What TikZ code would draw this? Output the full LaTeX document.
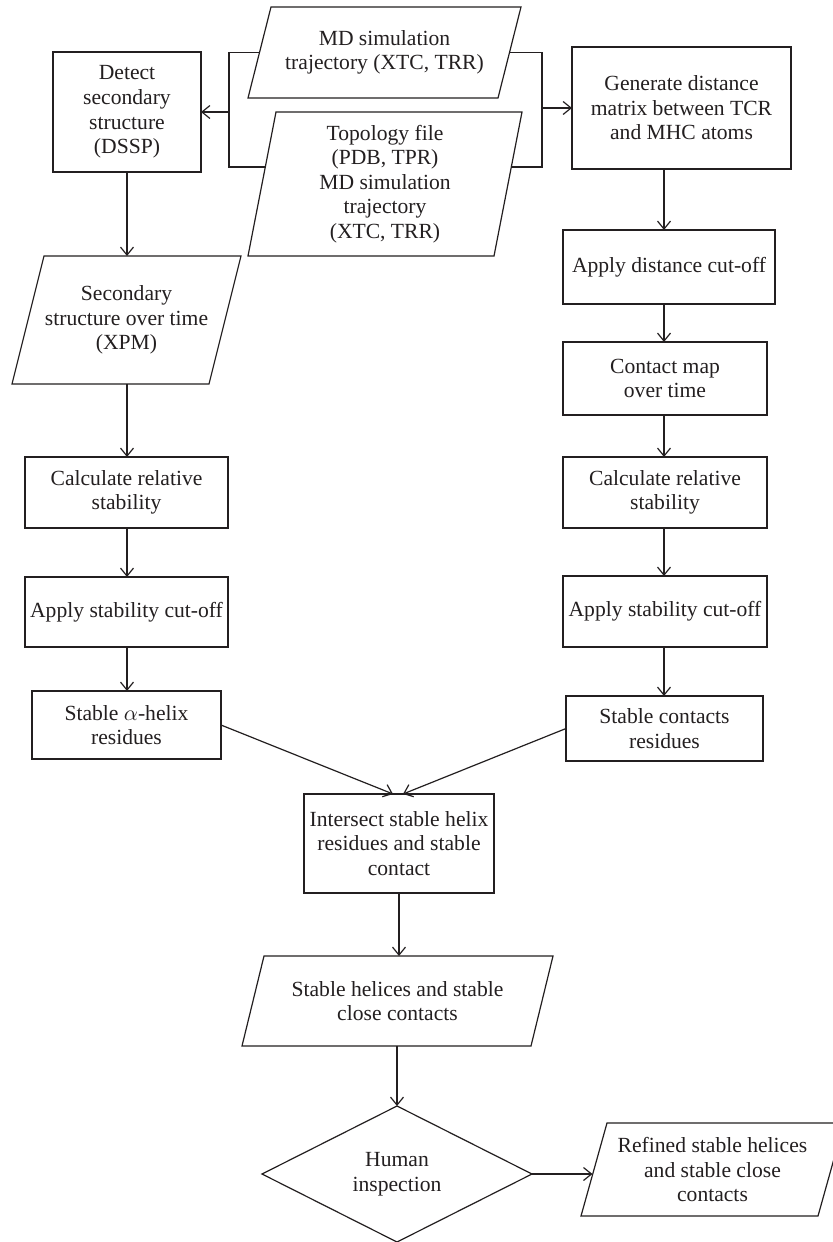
\documentclass[tikz,border=0pt]{standalone}
\usepackage{fontspec}
\setmainfont{Liberation Serif}
\usetikzlibrary{shapes.geometric,arrows.meta,calc}
\definecolor{ink}{HTML}{231F20}
\newcommand\drawpara[2]{\draw[ln] ([xshift=#2]#1.north west) -- (#1.north east) -- ([xshift=-#2]#1.south east) -- (#1.south west) -- cycle;}
\begin{document}
\begin{tikzpicture}[x=0.5pt,y=-0.5pt,
  every node/.style={font=\fontsize{10.8}{12.3}\selectfont, text=ink, align=center, inner sep=0pt, outer sep=0pt},
  box/.style={draw=ink, line width=0.6pt},
  dia/.style={draw=ink, line width=0.6pt, shape=diamond},
  ln/.style={draw=ink, line width=0.6pt},
  arr/.style={draw=ink, line width=0.6pt, -{Straight Barb[length=4pt,width=6.5pt]}}]
\useasboundingbox (0,0) rectangle (833,1242);
\fill[white] (0,0) rectangle (833,1242);
% column guides
\coordinate (colL) at (127,0);
\coordinate (colR) at (664,0);
\coordinate (jl) at (229,112);
\coordinate (jr) at (542,108);
% inputs
\node[minimum width=136.5pt, minimum height=45.5pt] (md1) at (384.5,52.5) {MD simulation\\trajectory (XTC, TRR)};
\drawpara{md1}{11.5pt}
\node[minimum width=137pt, minimum height=72pt] (md2) at (385,184) {Topology file\\(PDB, TPR)\\MD simulation\\trajectory\\(XTC, TRR)};
\drawpara{md2}{14pt}
% left column
\node[box, minimum width=74pt, minimum height=60pt] (dssp) at (127,112) {Detect\\secondary\\structure\\(DSSP)};
\node[minimum width=114.5pt, minimum height=64pt] (sec) at (126.5,320) {Secondary\\structure over time\\(XPM)};
\drawpara{sec}{16pt}
\node[box, minimum width=101.5pt, minimum height=35.5pt] (calcL) at (126.5,492.5) {Calculate relative\\stability};
\node[box, minimum width=101.5pt, minimum height=35pt] (applyL) at (126.5,612) {Apply stability cut-off};
\node[box, minimum width=94.5pt, minimum height=34pt] (helix) at (126.5,725) {Stable $\alpha$-helix\\residues};
% right column
\node[box, minimum width=109.5pt, minimum height=61pt] (gen) at (681.5,108) {Generate distance\\matrix between TCR\\and MHC atoms};
\node[box, minimum width=106pt, minimum height=37pt] (dist) at (669,267) {Apply distance cut-off};
\node[box, minimum width=102pt, minimum height=36.5pt] (cmap) at (665,378.5) {Contact map\\over time};
\node[box, minimum width=102pt, minimum height=35.5pt] (calcR) at (665,492.5) {Calculate relative\\stability};
\node[box, minimum width=102pt, minimum height=35.5pt] (applyR) at (665,611.5) {Apply stability cut-off};
\node[box, minimum width=98.5pt, minimum height=32.5pt] (cont) at (664.5,728.5) {Stable contacts\\residues};
% merge
\node[box, minimum width=95pt, minimum height=49.5pt] (inter) at (399,843.5) {Intersect stable helix\\residues and stable\\contact};
\node[minimum width=155.5pt, minimum height=45pt] (sh) at (397.5,1001) {Stable helices and stable\\close contacts};
\drawpara{sh}{11pt}
\node[dia, minimum width=135pt, minimum height=68pt] (hum) at (397,1174) {Human\\inspection};
\node[minimum width=131.5pt, minimum height=46.5pt] (ref) at (712.5,1169.5) {Refined stable helices\\and stable close\\contacts};
\drawpara{ref}{13pt}
% brackets
\draw[ln] ([xshift=5.75pt]md1.west) -| (jl) |- ($(md2.south west)!0.618!([xshift=14pt]md2.north west)$);
\draw[ln] ([xshift=-5.75pt]md1.east) -| (jr) |- ($([xshift=-14pt]md2.south east)!0.618!(md2.north east)$);
\draw[arr] (jl) -- (dssp.east);
\draw[arr] (jr) -- (gen.west);
% left column arrows
\draw[arr] (dssp.south -| colL) -- (sec.north -| colL);
\draw[arr] (sec.south -| colL) -- (calcL.north -| colL);
\draw[arr] (calcL.south -| colL) -- (applyL.north -| colL);
\draw[arr] (applyL.south -| colL) -- (helix.north -| colL);
% right column arrows
\draw[arr] (gen.south -| colR) -- (dist.north -| colR);
\draw[arr] (dist.south -| colR) -- (cmap.north -| colR);
\draw[arr] (cmap.south -| colR) -- (calcR.north -| colR);
\draw[arr] (calcR.south -| colR) -- (applyR.north -| colR);
\draw[arr] (applyR.south -| colR) -- (cont.north -| colR);
% merge arrows
\draw[arr] (helix.east) -- ([xshift=-3pt]inter.north);
\draw[arr] (cont.west) -- ([xshift=2pt]inter.north);
\draw[arr] (inter.south) -- (inter.south |- sh.north);
\draw[arr] (sh.south -| hum.north) -- (hum.north);
\coordinate (refin) at ($(ref.south west)!0.44!([xshift=13pt]ref.north west)$);
\draw[arr] (hum.east) -- (hum.east -| refin);
\end{tikzpicture}
\end{document}
